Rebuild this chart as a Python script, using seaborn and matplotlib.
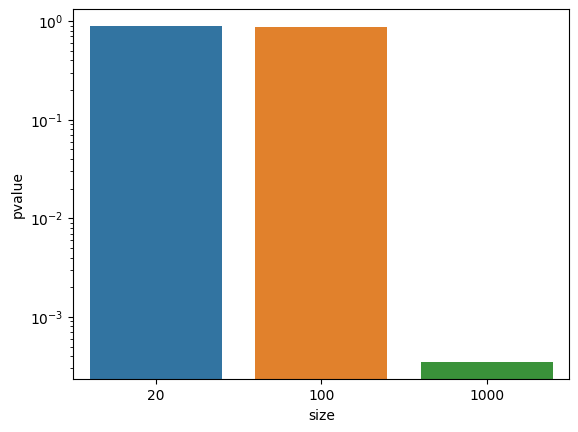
import pandas as pd
import matplotlib.pyplot as plt
import seaborn as sns

sizes = ['20', '100', '1000']
pvalues = [0.89, 0.87, 3.45e-4]

df = pd.DataFrame({'size': sizes, 'pvalue': pvalues})

# axes placed like the default figure, cropped tight
fig = plt.figure(figsize=(5.78, 4.32), dpi=100)
ax = fig.add_axes([73.3 / 578, (432 - 379.3) / 432, 496 / 578, 370 / 432])
sns.barplot(data=df, x='size', y='pvalue', hue='size', palette='tab10', legend=False, ax=ax)
ax.set_yscale('log')

plt.savefig('out.png', dpi=100)
